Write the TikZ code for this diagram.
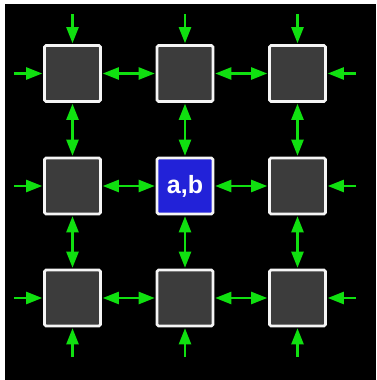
\documentclass[tikz,border=0pt]{standalone}
\usepackage{fontspec}
\setmainfont{Liberation Sans}
\usetikzlibrary{arrows.meta}
\definecolor{cellgray}{HTML}{3C3C3C}
\definecolor{cellblue}{HTML}{2222D8}
\definecolor{linkgreen}{HTML}{10E010}
\begin{document}
\begin{tikzpicture}[x=1pt,y=-1pt,
  cell/.style={draw=white!92!gray,line width=2.6pt,rounded corners=1.5pt,
    fill=cellgray,minimum size=56pt,inner sep=0pt},
  center cell/.style={cell,fill=cellblue,text=white,
    font=\bfseries\fontsize{25}{25}\selectfont},
  tip/.tip={Triangle[length=16pt,width=12pt]},
  link/.style={draw=linkgreen,line width=2.3pt,tip-tip,
    shorten <=1pt,shorten >=1pt},
  feed/.style={draw=linkgreen,line width=2.3pt,-tip,shorten >=1pt}]
  % page and background
  \useasboundingbox (0,0) rectangle (376,380);
  \fill[white] (0,0) rectangle (376,380);
  \fill[black] (5,4) rectangle (376,380);
  % 3x3 grid of cells
  \foreach \c/\x in {1/72.5,2/185,3/297.5}{
    \foreach \r/\y in {1/73.5,2/186,3/298}{
      \ifnum\c=2 \ifnum\r=2
        \node[center cell] (n\r\c) at (\x,\y) {a,b};
      \else
        \node[cell] (n\r\c) at (\x,\y) {};
      \fi\else
        \node[cell] (n\r\c) at (\x,\y) {};
      \fi
    }
  }
  % free ends of the incoming links on the border
  \foreach \c/\x in {1/72.5,2/185,3/297.5}{
    \coordinate (t\c) at (\x,14);
    \coordinate (b\c) at (\x,357);
  }
  \foreach \r/\y in {1/73.5,2/186,3/298}{
    \coordinate (l\r) at (14,\y);
    \coordinate (r\r) at (356,\y);
  }
  % links between neighbouring cells
  \foreach \r in {1,2,3}{
    \draw[link] (n\r1) -- (n\r2);
    \draw[link] (n\r2) -- (n\r3);
  }
  \foreach \c in {1,2,3}{
    \draw[link] (n1\c) -- (n2\c);
    \draw[link] (n2\c) -- (n3\c);
  }
  % incoming links from outside the grid
  \foreach \i in {1,2,3}{
    \draw[feed] (t\i) -- (n1\i);
    \draw[feed] (b\i) -- (n3\i);
    \draw[feed] (l\i) -- (n\i1);
    \draw[feed] (r\i) -- (n\i3);
  }
\end{tikzpicture}
\end{document}
